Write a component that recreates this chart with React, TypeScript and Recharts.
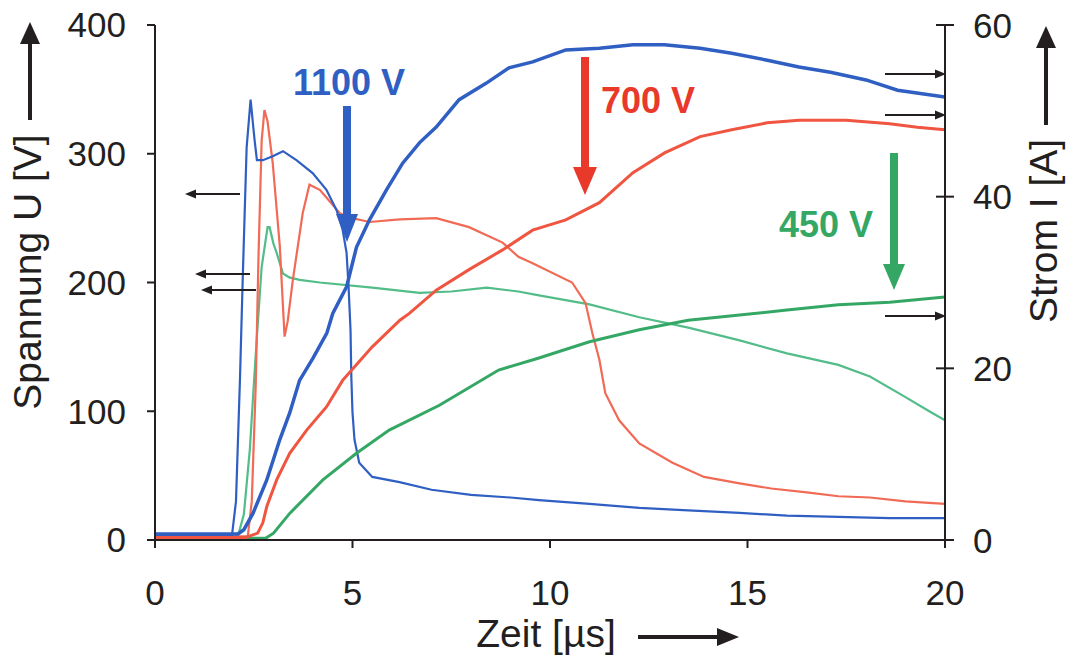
import React from "react";
import { LineChart, Line, XAxis, YAxis } from "recharts";

// Zeit [µs] / Spannung [V] / Strom [A]
const blueUT = [0, 1.0, 1.95, 2.05, 2.15, 2.22, 2.32, 2.42, 2.52, 2.58, 2.73, 2.98, 3.24, 3.58, 3.99, 4.34, 4.6, 4.75, 4.85, 4.9, 4.95, 4.97, 5.0, 5.05, 5.17, 5.5, 6.19, 7.0, 8.0, 9.0, 9.72, 11.0, 12.26, 13.5, 14.8, 16.0, 17.3, 18.6, 20];
const blueU = [3, 3, 4, 30, 124, 202, 305, 342, 311, 295, 295, 298, 302, 295, 285, 272, 256, 241, 223, 197, 163, 127, 99, 78, 60, 49, 45, 39, 35, 33, 31, 28, 25, 23, 21, 19, 18, 17, 17];

const blueIT = [0, 1.0, 2.1, 2.25, 2.48, 2.83, 3.16, 3.41, 3.66, 4.0, 4.35, 4.5, 4.85, 5.1, 5.43, 5.86, 6.27, 6.7, 7.12, 7.7, 8.38, 8.96, 9.56, 10.4, 11.25, 12.1, 12.9, 13.8, 14.6, 15.5, 16.3, 17.1, 18.0, 18.8, 20];
const blueI = [0.7, 0.7, 0.7, 1.2, 3.1, 7.0, 11.7, 14.8, 18.6, 21.2, 24.1, 26.4, 29.5, 34.1, 37.3, 40.8, 43.9, 46.3, 48.1, 51.3, 53.2, 55.0, 55.7, 57.1, 57.3, 57.7, 57.7, 57.3, 56.7, 55.9, 55.1, 54.5, 53.6, 52.4, 51.6];

const redUT = [0, 1.0, 2.35, 2.45, 2.55, 2.62, 2.7, 2.77, 2.85, 2.98, 3.16, 3.28, 3.36, 3.49, 3.74, 3.91, 4.17, 4.34, 4.67, 4.85, 5.43, 6.2, 7.12, 7.95, 8.8, 9.2, 9.56, 10.56, 10.9, 11.07, 11.25, 11.4, 11.75, 12.26, 13.1, 13.9, 14.8, 15.6, 16.5, 17.3, 18.1, 19.0, 20];
const redU = [2, 2, 3, 30, 120, 220, 310, 334, 325, 293, 228, 158, 170, 202, 254, 276, 272, 266, 254, 251, 247, 249, 250, 243, 231, 220, 215, 200, 184, 161, 140, 114, 93, 75, 60, 49, 44, 40, 37, 34, 33, 30, 28];

const redIT = [0, 1.0, 2.3, 2.6, 2.73, 2.83, 3.08, 3.41, 3.84, 4.34, 4.75, 5.5, 6.2, 6.44, 7.12, 7.95, 8.8, 9.56, 10.4, 11.25, 12.1, 12.9, 13.8, 14.6, 15.5, 16.3, 17.5, 18.6, 19.3, 20];
const redI = [0.3, 0.3, 0.3, 0.8, 2.0, 3.9, 7.0, 10.1, 12.8, 15.5, 18.6, 22.5, 25.6, 26.4, 29.1, 31.5, 33.8, 36.1, 37.3, 39.3, 42.8, 45.1, 47.0, 47.8, 48.6, 48.9, 48.9, 48.5, 48.1, 47.8];

const greenUT = [0, 1.0, 2.1, 2.25, 2.4, 2.5, 2.58, 2.7, 2.85, 2.9, 3.0, 3.08, 3.24, 3.4, 3.66, 4.17, 5.5, 6.7, 7.5, 8.4, 9.2, 9.72, 11.0, 12.26, 13.5, 14.8, 16.0, 17.3, 18.1, 19.0, 19.6, 20];
const greenU = [1, 1, 3, 20, 70, 120, 158, 212, 243, 243, 230, 223, 207, 204, 202, 200, 196, 192, 193, 196, 193, 190, 183, 173, 165, 155, 145, 136, 127, 111, 100, 93];

const greenIT = [0, 1.0, 2.8, 3.0, 3.41, 4.25, 5.1, 5.93, 7.2, 8.7, 9.72, 11.0, 12.26, 13.5, 14.8, 16.0, 17.3, 18.6, 20];
const greenI = [0.2, 0.2, 0.2, 0.8, 3.1, 7.0, 10.1, 12.8, 15.7, 19.8, 21.2, 23.1, 24.5, 25.6, 26.2, 26.8, 27.4, 27.7, 28.3];

const timeTicks = [0, 5, 10, 15, 20];
const uTicks = [0, 100, 200, 300, 400];
const iTicks = [0, 20, 40, 60];

const zip = (ts: number[], vs: number[]) => ts.map((t, i) => ({ t, v: vs[i] }));

const INK = "#231f20";
const BLUE = "#2f5fc2";
const RED = "#ef5540";
const RED_THIN = "#f16a55";
const GREEN = "#35a765";
const GREEN_THIN = "#52bd88";
const FONT = "'Liberation Sans', Arial, sans-serif";

const W = 1074;
const H = 659;

function RightTick(props: any) {
  const { x, y, payload } = props;
  return (
    <g>
      <line x1={x - 9} x2={x + 9} y1={y} y2={y} stroke={INK} strokeWidth={2} />
      <text x={x + 28} y={y} dy="0.36em" fontSize={35} fill={INK} fontFamily={FONT}>
        {payload.value}
      </text>
    </g>
  );
}

function Arrow({ x1, y1, x2, y2, w, head, hw, color }: any) {
  const dx = x2 - x1;
  const dy = y2 - y1;
  const len = Math.hypot(dx, dy);
  const ux = dx / len;
  const uy = dy / len;
  const bx = x2 - ux * head;
  const by = y2 - uy * head;
  const pts = `${x2},${y2} ${bx - uy * hw},${by + ux * hw} ${bx + uy * hw},${by - ux * hw}`;
  return (
    <g>
      <line x1={x1} y1={y1} x2={bx + ux} y2={by + uy} stroke={color} strokeWidth={w} />
      <polygon points={pts} fill={color} />
    </g>
  );
}

function Annotations() {
  return (
    <svg width={W} height={H} style={{ position: "absolute", left: 0, top: 0, pointerEvents: "none" }}>
      {/* voltage labels */}
      <text x={349} y={95} textAnchor="middle" fontSize={36} fontWeight="bold" fill={BLUE} fontFamily={FONT}>1100 V</text>
      <Arrow x1={347} y1={106} x2={347} y2={242} w={8} head={28} hw={11} color={BLUE} />
      <text x={648} y={113} textAnchor="middle" fontSize={36} fontWeight="bold" fill="#e8392a" fontFamily={FONT}>700 V</text>
      <Arrow x1={585} y1={57} x2={585} y2={195} w={8} head={28} hw={12} color="#e8392a" />
      <text x={826} y={237} textAnchor="middle" fontSize={36} fontWeight="bold" fill={GREEN} fontFamily={FONT}>450 V</text>
      <Arrow x1={894} y1={153} x2={894} y2={290} w={8} head={26} hw={11} color={GREEN} />

      {/* axis pointers */}
      <Arrow x1={240} y1={194} x2={185} y2={194} w={2} head={11} hw={4.5} color={INK} />
      <Arrow x1={250} y1={274} x2={195} y2={274} w={2} head={11} hw={4.5} color={INK} />
      <Arrow x1={256} y1={290} x2={201} y2={290} w={2} head={11} hw={4.5} color={INK} />
      <Arrow x1={885} y1={74} x2={946} y2={74} w={2} head={11} hw={4.5} color={INK} />
      <Arrow x1={885} y1={115} x2={946} y2={115} w={2} head={11} hw={4.5} color={INK} />
      <Arrow x1={885} y1={316} x2={946} y2={316} w={2} head={11} hw={4.5} color={INK} />

      {/* axis titles */}
      <text x={41} y={272} transform="rotate(-90 41 272)" textAnchor="middle" fontSize={39} fill={INK} fontFamily={FONT}>Spannung U [V]</text>
      <Arrow x1={30} y1={120} x2={30} y2={22} w={4} head={22} hw={10} color={INK} />
      <text x={1057} y={231} transform="rotate(-90 1057 231)" textAnchor="middle" fontSize={39} fill={INK} fontFamily={FONT}>Strom I [A]</text>
      <Arrow x1={1046} y1={125} x2={1046} y2={26} w={4} head={22} hw={10} color={INK} />
      <text x={546} y={647} textAnchor="middle" fontSize={39} fill={INK} fontFamily={FONT}>Zeit [µs]</text>
      <Arrow x1={638} y1={637} x2={739} y2={637} w={4} head={22} hw={9} color={INK} />
    </svg>
  );
}

export default function App() {
  const axisLine = { stroke: INK, strokeWidth: 2 };
  const tickStyle = { fontSize: 35, fill: INK, fontFamily: FONT };
  return (
    <div style={{ position: "absolute", left: 0, top: 0, width: W, height: H, overflow: "hidden", background: "#fff" }}>
      <LineChart width={W} height={H} margin={{ top: 25, right: 49, bottom: 59, left: 75 }} style={{ fontFamily: FONT }}>
        <XAxis
          dataKey="t"
          type="number"
          domain={[0, 20]}
          ticks={timeTicks}
          allowDataOverflow
          height={60}
          axisLine={axisLine}
          tickLine={axisLine}
          tickSize={8}
          tickMargin={32}
          tick={tickStyle}
        />
        <YAxis
          yAxisId="u"
          type="number"
          domain={[0, 400]}
          ticks={uTicks}
          width={80}
          axisLine={axisLine}
          tickLine={axisLine}
          tickSize={8}
          tickMargin={21}
          tick={tickStyle}
        />
        <YAxis
          yAxisId="i"
          orientation="right"
          type="number"
          domain={[0, 60]}
          ticks={iTicks}
          width={80}
          axisLine={axisLine}
          tickLine={false}
          tickSize={0}
          tickMargin={0}
          tick={<RightTick />}
        />
        <Line yAxisId="u" data={zip(greenUT, greenU)} dataKey="v" type="linear" stroke={GREEN_THIN} strokeWidth={2.2} dot={false} isAnimationActive={false} />
        <Line yAxisId="u" data={zip(redUT, redU)} dataKey="v" type="linear" stroke={RED_THIN} strokeWidth={2.2} dot={false} isAnimationActive={false} />
        <Line yAxisId="u" data={zip(blueUT, blueU)} dataKey="v" type="linear" stroke={BLUE} strokeWidth={2.2} dot={false} isAnimationActive={false} />
        <Line yAxisId="i" data={zip(greenIT, greenI)} dataKey="v" type="linear" stroke={GREEN} strokeWidth={3} dot={false} isAnimationActive={false} />
        <Line yAxisId="i" data={zip(redIT, redI)} dataKey="v" type="linear" stroke={RED} strokeWidth={3} dot={false} isAnimationActive={false} />
        <Line yAxisId="i" data={zip(blueIT, blueI)} dataKey="v" type="linear" stroke={BLUE} strokeWidth={3.5} dot={false} isAnimationActive={false} />
      </LineChart>
      <Annotations />
    </div>
  );
}
